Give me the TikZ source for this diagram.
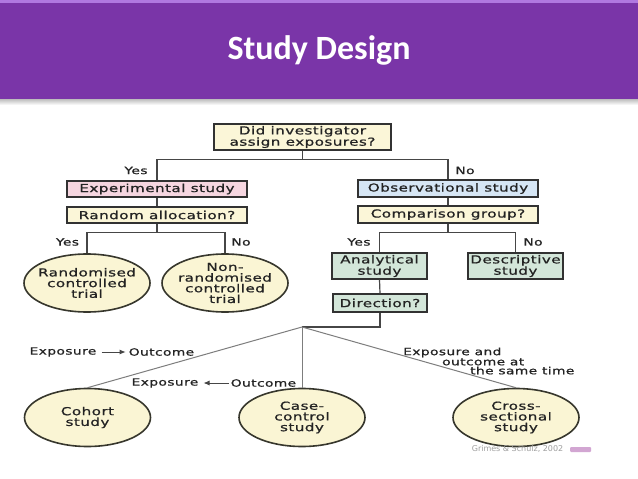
\documentclass[tikz,border=0pt]{standalone}
\usepackage{fontspec}
\usetikzlibrary{shapes.geometric,arrows.meta}
\newfontfamily\titlefont{Carlito}
\newfontfamily\dfont{DejaVu Sans}[FakeStretch=1.38,LetterSpace=4,FakeBold=0.9]
\newfontfamily\cfont{DejaVu Sans}
\definecolor{barpurple}{RGB}{122,53,168}
\definecolor{barlight}{RGB}{176,120,224}
\definecolor{txt}{RGB}{35,35,35}
\definecolor{boxline}{RGB}{50,50,50}
\definecolor{ellline}{RGB}{55,55,45}
\definecolor{ellfill}{RGB}{250,245,212}
\definecolor{pinkfill}{RGB}{246,214,224}
\definecolor{creamfill}{RGB}{251,246,216}
\definecolor{bluefill}{RGB}{214,230,245}
\definecolor{greenfill}{RGB}{211,230,217}
\definecolor{treeline}{RGB}{70,70,70}
\definecolor{branchline}{RGB}{125,125,125}
\begin{document}
\begin{tikzpicture}[x=1pt,y=-1pt,
  box/.style={draw=boxline, line width=1.3pt, font=\dfont\fontsize{11}{11.3}\selectfont,
    text=txt, inner sep=0pt, align=center},
  ell/.style={ellipse, draw=ellline, line width=1.6pt, fill=ellfill,
    minimum width=126pt, minimum height=58pt, inner xsep=-18pt, inner ysep=-2pt,
    font=\dfont\fontsize{11}{10.7}\selectfont, text=txt, align=center},
  lbl/.style={font=\dfont\fontsize{10}{9}\selectfont, text=txt, inner sep=0pt},
  tree/.style={draw=treeline, line width=1.2pt},
  branch/.style={draw=branchline, line width=1pt},
  arr/.style={draw=treeline, line width=0.8pt, -{Latex[length=6pt,width=5pt]}}
]
\useasboundingbox (0,0) rectangle (638,479);
\fill[white] (0,0) rectangle (638,479);
% title bar
\shade[top color=gray!60, bottom color=white] (0,98) rectangle (638,105);
\fill[barpurple] (0,2) rectangle (638,99);
\fill[barlight] (0,0) rectangle (638,3);
\node[font=\titlefont\bfseries\fontsize{34}{40}\selectfont, text=white] (title) at (319,50) {Study Design};

% boxes
\node[box, fill=creamfill, minimum width=177pt, minimum height=26pt] (q1) at (302.5,137) {Did investigator\\assign exposures?};
\node[box, fill=pinkfill, minimum width=180pt, minimum height=16pt] (exp) at (157,189) {Experimental study};
\node[box, fill=creamfill, minimum width=180pt, minimum height=16pt] (ran) at (157,215) {Random allocation?};
\node[box, fill=bluefill, minimum width=180pt, minimum height=17pt] (obs) at (448,188.5) {Observational study};
\node[box, fill=creamfill, minimum width=180pt, minimum height=17pt] (cmp) at (448,214.5) {Comparison group?};
\node[box, fill=greenfill, minimum width=95pt, minimum height=26pt] (ana) at (379.5,266) {Analytical\\study};
\node[box, fill=greenfill, minimum width=95pt, minimum height=26pt] (des) at (515.5,266) {Descriptive\\study};
\node[box, fill=greenfill, minimum width=94pt, minimum height=18pt] (dir) at (380,303) {Direction?};

% ellipses
\node[ell] (rct) at (87,283) {Randomised\\controlled\\trial};
\node[ell] (nrct) at (225,283) {Non-\\randomised\\controlled\\trial};
\node[ell] (coh) at (87.5,417.5) {Cohort\\study};
\node[ell] (cc) at (302,417.5) {Case-\\control\\study};
\node[ell] (cs) at (516,417.5) {Cross-\\sectional\\study};

% tree connectors
\draw[tree] (q1.south) -- ++(0,9) -| (exp.north);
\draw[tree] (q1.south) -- ++(0,9) -| (obs.north);
\draw[tree] (exp.south) -- (ran.north);
\draw[tree] (ran.south) -- ++(0,9) -| (rct.north);
\draw[tree] (ran.south) -- ++(0,9) -| (nrct.north);
\draw[tree] (obs.south) -- (cmp.north);
\draw[tree] (cmp.south) -- ++(0,9) -| (ana.north);
\draw[tree] (cmp.south) -- ++(0,9) -| (des.north);
\draw[tree] (ana.south) -- (dir.north);
\coordinate (bp) at (302,327);
\draw[tree] (dir.south) |- (bp);
\draw[branch] (bp) -- (coh.north);
\draw[branch] (bp) -- (cc.north);
\draw[branch] (bp) -- (cs.north);

% yes/no labels
\node[lbl] (y1) at (136,170.5) {Yes};
\node[lbl] (n1) at (465,170.5) {No};
\node[lbl] (y2) at (67.5,242) {Yes};
\node[lbl] (n2) at (241,242) {No};
\node[lbl] (y3) at (359,242) {Yes};
\node[lbl] (n3) at (533,242) {No};

% direction labels
\node[lbl] (e1) at (63,352) {Exposure};
\node[lbl] (o1) at (161.5,352) {Outcome};
\draw[arr, shorten <=5pt, shorten >=3pt] (e1) -- (o1);
\node[lbl] (e2) at (165,383) {Exposure};
\node[lbl] (o2) at (263.5,383) {Outcome};
\draw[arr, shorten <=2pt, shorten >=5pt] (o2) -- (e2);
\node[lbl, anchor=west, align=left] (same) at (403,361) {Exposure and\\\hspace*{39pt}outcome at\\\hspace*{67pt}the same time};

% credit
\node[font=\cfont\fontsize{8}{9}\selectfont, text=gray!75, inner sep=0pt] (cred) at (517.5,449) {Grimes \& Schulz, 2002};
\fill[violet!35, rounded corners=1pt] (570,447) rectangle (591,452);
\end{tikzpicture}
\end{document}
